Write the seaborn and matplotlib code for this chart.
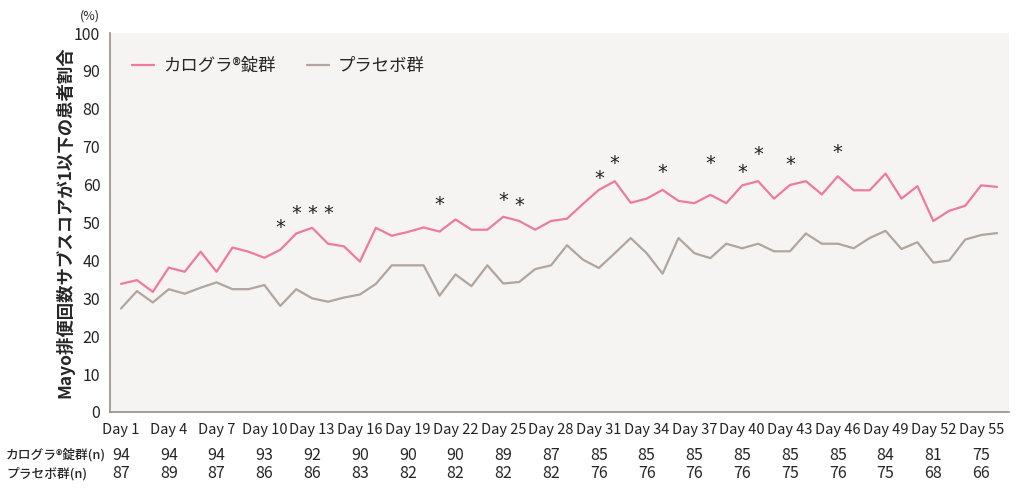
import numpy as np
import pandas as pd
import matplotlib
matplotlib.use("Agg")
import matplotlib.pyplot as plt
import seaborn as sns

# data
days = list(range(1, 57))
kalograph = [33.8, 34.8, 31.7, 38.1, 37.0, 42.3, 37.0, 43.4, 42.3, 40.7,
             42.8, 47.1, 48.6, 44.4, 43.7, 39.7, 48.6, 46.5, 47.5, 48.7,
             47.6, 50.8, 48.1, 48.1, 51.5, 50.4, 48.1, 50.4, 51.0, 54.9,
             58.6, 60.9, 55.2, 56.3, 58.6, 55.7, 55.1, 57.3, 55.1, 59.8,
             60.9, 56.3, 59.9, 60.9, 57.4, 62.2, 58.5, 58.5, 62.9, 56.3,
             59.6, 50.4, 53.1, 54.4, 59.8, 59.4]
placebo = [27.3, 31.9, 28.9, 32.4, 31.2, 32.8, 34.2, 32.4, 32.4, 33.5,
           28.0, 32.4, 30.0, 29.1, 30.2, 31.0, 33.8, 38.7, 38.7, 38.7,
           30.7, 36.3, 33.2, 38.7, 33.9, 34.3, 37.7, 38.7, 44.0, 40.2,
           38.0, 41.9, 45.9, 41.9, 36.5, 45.9, 41.9, 40.6, 44.4, 43.2,
           44.4, 42.4, 42.4, 47.1, 44.4, 44.4, 43.2, 45.9, 47.8, 43.0,
           44.8, 39.4, 40.0, 45.5, 46.7, 47.2]

group_names = ["カログラ®錠群", "プラセボ群"]

# significance marks (day, height of asterisk)
sig_days = [11, 12, 13, 14, 21, 25, 26, 31, 32, 35, 38, 40, 41, 43, 46]
sig_y = [48.7, 52.4, 52.4, 52.4, 54.8, 55.8, 54.4, 61.6, 65.5, 63.3,
         65.6, 63.2, 67.9, 65.4, 68.5]

# number at risk table
tick_days = list(range(1, 56, 3))
tick_labels = ["Day %d" % d for d in tick_days]
n_kalograph = [94, 94, 94, 93, 92, 90, 90, 90, 89, 87, 85, 85, 85, 85, 85, 85, 84, 81, 75]
n_placebo = [87, 89, 87, 86, 86, 83, 82, 82, 82, 82, 76, 76, 76, 76, 75, 76, 75, 68, 66]
row_labels = ["カログラ®錠群(n)", "プラセボ群(n)"]

pink = "#ee7b9c"
grey = "#b1a59d"
axis_col = "#9a8e88"

sns.set_style("white")
plt.rcParams["font.family"] = ["Noto Sans CJK JP", "DejaVu Sans"]

df = pd.DataFrame({
    "day": days * 2,
    "value": kalograph + placebo,
    "group": [group_names[0]] * len(days) + [group_names[1]] * len(days),
})

fig = plt.figure(figsize=(10.18, 4.91), dpi=100)
ax = fig.add_axes([110 / 1018, 1 - 412 / 491, 899 / 1018, 379 / 491])
ax.set_facecolor("#f5f4f2")

sns.lineplot(data=df, x="day", y="value", hue="group",
             palette=[pink, grey], linewidth=1.6, ax=ax)

for d, y in zip(sig_days, sig_y):
    ax.text(d, y, "*", ha="center", va="center", fontsize=14,
            family="DejaVu Sans", color="#222222")

ax.set_xlim(0.31, 56.75)
ax.set_ylim(0, 100)
ax.set_yticks(range(0, 101, 10))
ax.set_xticks(tick_days)
ax.set_xticklabels(tick_labels)
ax.tick_params(axis="both", direction="out", length=5, width=1,
               color=axis_col, labelsize=10.5, labelcolor="#222222", pad=3)
ax.tick_params(axis="y", labelsize=11.5, pad=2)

for side in ["top", "right"]:
    ax.spines[side].set_visible(False)
for side in ["left", "bottom"]:
    ax.spines[side].set_color(axis_col)
    ax.spines[side].set_linewidth(1.2)

ax.set_xlabel("")
ax.set_ylabel("Mayo排便回数サブスコアが1以下の患者割合", fontsize=12.5,
              fontweight="bold")
ax.yaxis.set_label_coords(-0.040, 0.5)
fig.text(90 / 1018, 1 - 16 / 491, "(%)", fontsize=9, ha="center", va="center")

handles, labels = ax.get_legend_handles_labels()
ax.legend(handles, labels, loc="center left", bbox_to_anchor=(0.024, 0.913),
          ncol=2, frameon=False, fontsize=12.5, handlelength=1.3,
          handletextpad=0.5, columnspacing=1.8, borderaxespad=0, borderpad=0)

# n table below the axis
xform = ax.get_xaxis_transform()
for d, a, b in zip(tick_days, n_kalograph, n_placebo):
    ax.text(d, (412 - 455) / 379, str(a), transform=xform, ha="center",
            va="center", fontsize=11.5, clip_on=False)
    ax.text(d, (412 - 474) / 379, str(b), transform=xform, ha="center",
            va="center", fontsize=11.5, clip_on=False)
fig.text(6 / 1018, 1 - 455 / 491, row_labels[0], fontsize=9.2,
         fontweight="medium", va="center")
fig.text(6 / 1018, 1 - 474 / 491, row_labels[1], fontsize=9.2,
         fontweight="medium", va="center")

fig.savefig("out.png", dpi=100)
